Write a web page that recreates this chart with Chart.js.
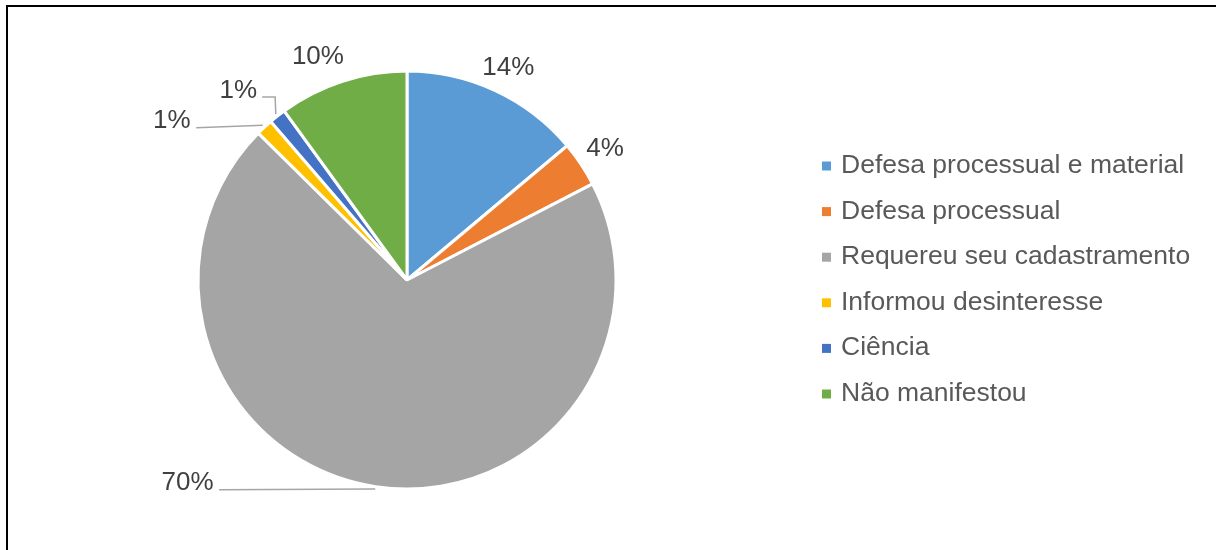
<!DOCTYPE html>
<html>
<head>
<meta charset="utf-8">
<script src="https://cdn.jsdelivr.net/npm/chart.js@4/dist/chart.umd.min.js"></script>
<style>
  html, body { margin: 0; padding: 0; background: #fff; }
  #wrap { position: relative; width: 1216px; height: 550px; overflow: hidden; }
  #frame { position: absolute; left: 6px; top: 5px; width: 1230px; height: 560px;
           border-top: 2px solid #000; border-left: 2px solid #000; }
  #c { position: absolute; left: 0; top: 0; }
</style>
</head>
<body>
<div id="wrap">
  <div id="frame"></div>
  <canvas id="c" width="1216" height="550"></canvas>
</div>
<script>
// Categories and their shares (percent of all responses)
const categories = [
  'Defesa processual e material',
  'Defesa processual',
  'Requereu seu cadastramento',
  'Informou desinteresse',
  'Ciência',
  'Não manifestou'
];
const shares = [13.9, 3.5, 70.0, 1.3, 1.3, 10.0];
const sliceColors = ['#5B9BD5', '#ED7D31', '#A5A5A5', '#FFC000', '#4472C4', '#70AD47'];

// Where each percentage label sits, relative to the slice's outer mid point
const labelOffsets = [[13, -25], [24, -18], [-188, -6], [-92.5, -8.5], [-39, -27.5], [-24.5, -27]];
// Which labels get a leader line: 'straight' or 'elbow'
const leaderKinds = [null, null, 'straight', 'straight', 'elbow', null];

const FONT = '"Liberation Sans", Arial, sans-serif';

const sliceLabels = {
  id: 'sliceLabels',
  afterDatasetsDraw(chart) {
    const ctx = chart.ctx;
    const meta = chart.getDatasetMeta(0);
    const values = chart.data.datasets[0].data;
    const total = values.reduce((a, b) => a + b, 0);
    ctx.save();
    ctx.font = '26px ' + FONT;
    meta.data.forEach((arc, i) => {
      const p = arc.getProps(['x', 'y', 'startAngle', 'endAngle', 'outerRadius'], true);
      const mid = (p.startAngle + p.endAngle) / 2;
      const ax = p.x + Math.cos(mid) * p.outerRadius;
      const ay = p.y + Math.sin(mid) * p.outerRadius;
      const text = Math.round(values[i] * 100 / total) + '%';
      const cx = ax + labelOffsets[i][0];
      const cy = ay + labelOffsets[i][1];
      const w = ctx.measureText(text).width;
      const baseline = cy + 9.5;
      const right = cx + w / 2;

      const kind = leaderKinds[i];
      if (kind) {
        const sx = p.x + Math.cos(mid) * (p.outerRadius + 2.5);
        const sy = p.y + Math.sin(mid) * (p.outerRadius + 2.5);
        ctx.strokeStyle = '#A6A6A6';
        ctx.lineWidth = 1.5;
        ctx.beginPath();
        ctx.moveTo(sx, sy);
        if (kind === 'elbow') {
          ctx.lineTo(right + 18, baseline - 1);
          ctx.lineTo(right + 5, baseline - 1);
        } else {
          ctx.lineTo(right + 5.5, baseline - 0.5);
        }
        ctx.stroke();
      }

      ctx.fillStyle = '#404040';
      ctx.textAlign = 'center';
      ctx.textBaseline = 'alphabetic';
      ctx.fillText(text, cx, baseline);
    });
    ctx.restore();
  }
};

const sideLegend = {
  id: 'sideLegend',
  afterDraw(chart) {
    const ctx = chart.ctx;
    const ds = chart.data.datasets[0];
    ctx.save();
    ctx.font = '26.5px ' + FONT;
    ctx.textAlign = 'left';
    ctx.textBaseline = 'alphabetic';
    chart.data.labels.forEach((label, i) => {
      const baseline = 173 + i * 45.6;
      ctx.fillStyle = ds.backgroundColor[i];
      ctx.fillRect(822, baseline - 11.5, 9, 9);
      ctx.fillStyle = '#595959';
      ctx.fillText(label, 841, baseline);
    });
    ctx.restore();
  }
};

new Chart(document.getElementById('c'), {
  type: 'pie',
  data: {
    labels: categories,
    datasets: [{
      data: shares,
      backgroundColor: sliceColors,
      borderColor: '#FFFFFF',
      borderWidth: 3
    }]
  },
  options: {
    responsive: false,
    animation: false,
    devicePixelRatio: 1,
    radius: 209,
    layout: { padding: { left: 199, right: 601, top: 72, bottom: 62 } },
    plugins: {
      legend: { display: false },
      tooltip: { enabled: false }
    }
  },
  plugins: [sliceLabels, sideLegend]
});
</script>
</body>
</html>
